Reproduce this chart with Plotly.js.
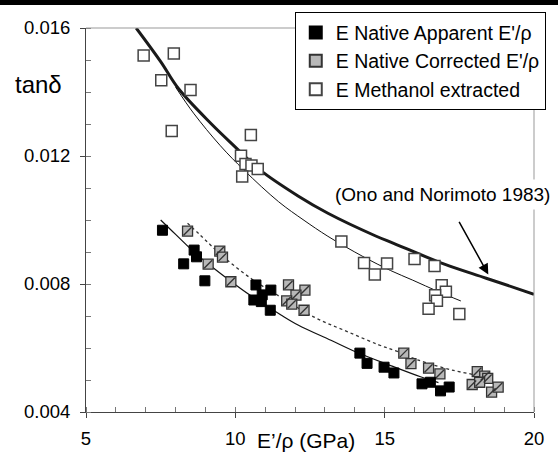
<!DOCTYPE html>
<html>
<head>
<meta charset="utf-8">
<script src="https://cdn.plot.ly/plotly-3.0.1.min.js"></script>
<style>html,body{margin:0;padding:0;background:#fff;}#chart{width:558px;height:459px;}</style>
</head>
<body>
<div id="chart"></div>
<script>
// ---- data ----
const seriesNames = ["E Native Apparent E'/\u03c1", "E Native Corrected E'/\u03c1", "E Methanol extracted"];

const apparentX = [7.56, 8.62, 8.70, 8.27, 8.98, 10.69, 11.19, 10.62, 10.90, 10.87, 11.17, 14.17, 14.41, 14.98, 15.31, 16.25, 16.53, 16.87, 17.16];
const apparentY = [0.00968, 0.00906, 0.00885, 0.00863, 0.00810, 0.00797, 0.00781, 0.00750, 0.00766, 0.00745, 0.00718, 0.00584, 0.00552, 0.00540, 0.00522, 0.00488, 0.00493, 0.00466, 0.00478];

const correctedX = [8.40, 9.48, 9.57, 9.09, 9.85, 11.78, 12.33, 12.03, 11.72, 11.89, 12.30, 15.64, 15.88, 16.47, 16.85, 18.10, 18.35, 18.45, 17.93, 18.18, 18.58, 18.80];
const correctedY = [0.00965, 0.00903, 0.00884, 0.00862, 0.00807, 0.00797, 0.00781, 0.00765, 0.00747, 0.00737, 0.00718, 0.00584, 0.00551, 0.00537, 0.00519, 0.00526, 0.00512, 0.00505, 0.00486, 0.00493, 0.00462, 0.00478];

const methanolX = [6.93, 7.94, 7.52, 8.50, 7.87, 10.52, 10.19, 10.34, 10.54, 10.75, 10.23, 13.55, 14.31, 14.67, 15.08, 16.00, 16.67, 16.91, 17.05, 16.69, 16.75, 16.47, 17.50];
const methanolY = [0.01514, 0.01520, 0.01437, 0.01406, 0.01278, 0.01266, 0.01201, 0.01175, 0.01170, 0.01159, 0.01136, 0.00933, 0.00866, 0.00830, 0.00864, 0.00878, 0.00856, 0.00796, 0.00776, 0.00765, 0.00748, 0.00723, 0.00706];

// fitted curves as drawn in the reference
const onoX = [6.68, 7.5, 8.1, 9.2, 10.0, 10.8, 12.1, 13.1, 14.7, 15.3, 17.0, 18.4, 20.0];
const onoY = [0.0160, 0.01495, 0.01410, 0.01300, 0.01228, 0.01158, 0.01075, 0.01021, 0.00950, 0.00927, 0.00862, 0.00818, 0.00768];

const methFitX = [8.0, 8.6, 9.5, 10.3, 11.45, 12.3, 13.1, 14.27, 15.2, 15.94, 16.8, 17.55];
const methFitY = [0.01415, 0.01334, 0.01232, 0.01155, 0.01057, 0.00999, 0.00949, 0.00886, 0.00842, 0.00812, 0.00776, 0.00747];

const appFitX = [7.5, 8.0, 8.7, 9.8, 10.7, 11.5, 12.1, 13.2, 14.1, 15.2, 16.2, 16.8];
const appFitY = [0.0100, 0.00955, 0.00893, 0.00812, 0.00752, 0.00705, 0.00672, 0.00624, 0.00585, 0.00545, 0.00510, 0.00492];

const corFitX = [8.4, 8.8, 9.6, 10.56, 11.5, 12.67, 13.78, 14.8, 15.4, 16.1, 17.3, 18.3];
const corFitY = [0.0099, 0.00955, 0.00885, 0.00815, 0.00760, 0.00695, 0.00650, 0.00610, 0.00590, 0.00563, 0.00530, 0.00512];

const xTickVals = [5, 10, 15, 20];
const xTickText = ['5', '10', '15', '20'];
const yTickVals = [0.004, 0.008, 0.012, 0.016];
const yTickText = ['0.004', '0.008', '0.012', '0.016'];

const annotationText = '(Ono and Norimoto 1983)';
const yLabel = 'tan\u03b4';
const xLabel = 'E\u2019/\u03c1 (GPa)';

// ---- figure ----
const FONT = 'Liberation Sans, Arial, Helvetica, sans-serif';

const traces = [
  {x: onoX, y: onoY, mode: 'lines', line: {color: '#1a1a1a', width: 3, shape: 'spline'}, showlegend: false, hoverinfo: 'skip'},
  {x: methFitX, y: methFitY, mode: 'lines', line: {color: '#111', width: 1, shape: 'spline'}, showlegend: false, hoverinfo: 'skip'},
  {x: appFitX, y: appFitY, mode: 'lines', line: {color: '#111', width: 1.2, shape: 'spline'}, showlegend: false, hoverinfo: 'skip'},
  {x: corFitX, y: corFitY, mode: 'lines', line: {color: '#333', width: 1.3, dash: 'dot', shape: 'spline'}, showlegend: false, hoverinfo: 'skip'},
  {x: methanolX, y: methanolY, mode: 'markers', name: seriesNames[2], legendgroup: 'g3', legendrank: 3,
   marker: {symbol: 'square', size: 11, color: '#ffffff', line: {color: '#444', width: 1.5}}},
  {x: correctedX, y: correctedY, mode: 'markers', name: seriesNames[1], legendgroup: 'g2', legendrank: 2,
   marker: {symbol: 'square', size: 10, color: '#b8b8b8', line: {color: '#333', width: 1.3}}},
  {x: correctedX, y: correctedY, mode: 'markers', showlegend: false, legendgroup: 'g2', hoverinfo: 'skip',
   marker: {symbol: 'line-ne', size: 8, line: {color: '#333', width: 1.4}}},
  {x: apparentX, y: apparentY, mode: 'markers', name: seriesNames[0], legendgroup: 'g1', legendrank: 1,
   marker: {symbol: 'square', size: 10, color: '#000000', line: {color: '#000', width: 1}}}
];

const layout = {
  width: 558, height: 459,
  margin: {l: 86, r: 21, t: 26, b: 47, pad: 0},
  paper_bgcolor: '#fff', plot_bgcolor: '#fff',
  font: {family: FONT, size: 18.5, color: '#000'},
  showlegend: true,
  legend: {
    x: 0.466, y: 1.041, xanchor: 'left', yanchor: 'top',
    bgcolor: '#fff', bordercolor: '#000', borderwidth: 1,
    font: {family: FONT, size: 19.5, color: '#000'},
    traceorder: 'normal', tracegroupgap: 5, itemsizing: 'constant'
  },
  xaxis: {
    range: [5, 20], tickvals: xTickVals, ticktext: xTickText,
    showgrid: false, zeroline: false, showline: true, linecolor: '#444', linewidth: 1,
    ticks: 'outside', ticklen: 5, tickcolor: '#444', ticklabelstandoff: 5,
    minor: {dtick: 1, ticks: 'inside', ticklen: 5, tickcolor: '#777', showgrid: false},
    tickfont: {family: FONT, size: 18.5, color: '#000'}
  },
  yaxis: {
    range: [0.004, 0.016], tickvals: yTickVals, ticktext: yTickText,
    showgrid: false, zeroline: false, showline: true, linecolor: '#444', linewidth: 1,
    ticks: 'outside', ticklen: 5, tickcolor: '#444', ticklabelstandoff: 6,
    minor: {dtick: 0.001, ticks: 'inside', ticklen: 5, tickcolor: '#777', showgrid: false},
    tickfont: {family: FONT, size: 18.5, color: '#000'}
  },
  shapes: [
    {type: 'line', xref: 'paper', yref: 'paper', x0: 0, x1: 1, y0: 1, y1: 1, line: {color: '#999', width: 1}},
    {type: 'line', xref: 'paper', yref: 'paper', x0: 1, x1: 1, y0: 0, y1: 1, line: {color: '#999', width: 1}},
    {type: 'rect', xref: 'paper', yref: 'paper', x0: -0.2, x1: 1.06, y0: 1.0596, y1: 1.08, fillcolor: '#000', line: {width: 0}, layer: 'above'}
  ],
  annotations: [
    {text: annotationText, x: 16.94, y: 0.0108, xref: 'x', yref: 'y', showarrow: false,
     xanchor: 'center', yanchor: 'middle', bgcolor: '#fff', borderpad: 4,
     font: {family: FONT, size: 19, color: '#000'}},
    {text: '', x: 18.47, y: 0.0083, xref: 'x', yref: 'y', showarrow: true, ax: -30, ay: -54,
     arrowhead: 2, arrowsize: 1.4, arrowwidth: 1.5, arrowcolor: '#000'},
    {text: yLabel, xref: 'paper', yref: 'paper', x: -0.162, y: 0.852, xanchor: 'left', yanchor: 'middle',
     showarrow: false, font: {family: FONT, size: 24, color: '#000'}},
    {text: xLabel, xref: 'x', yref: 'paper', x: 12.35, y: -0.075, xanchor: 'center', yanchor: 'middle',
     showarrow: false, font: {family: FONT, size: 21, color: '#000'}}
  ]
};

Plotly.newPlot('chart', traces, layout, {staticPlot: true, displayModeBar: false});
</script>
</body>
</html>
